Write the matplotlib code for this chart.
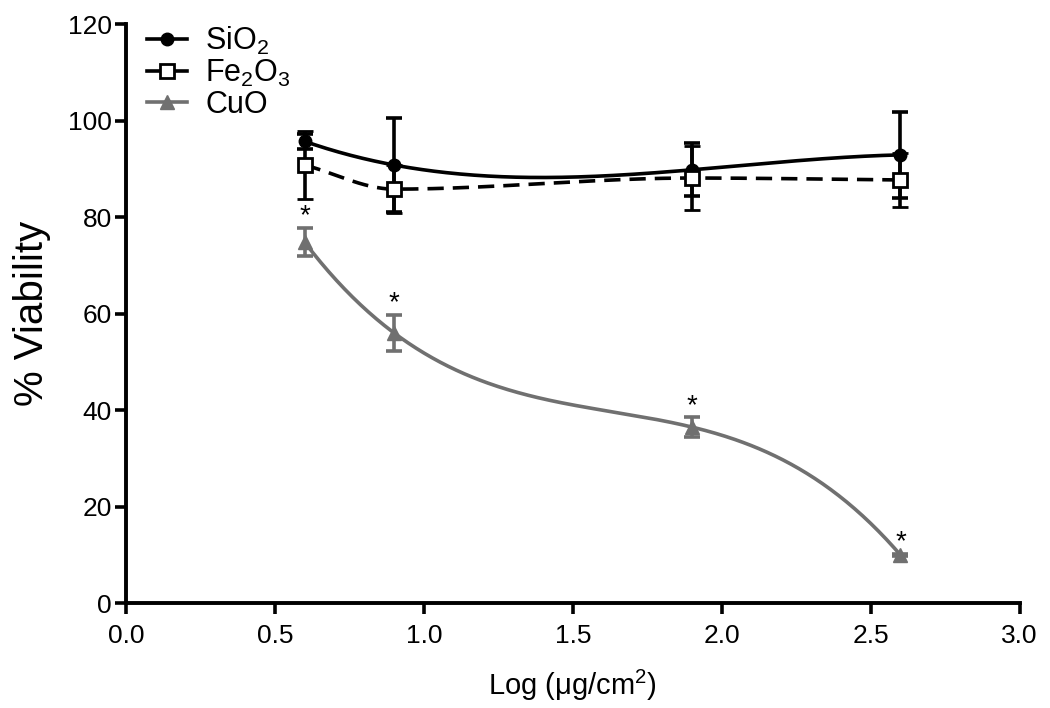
import numpy as np
import matplotlib
matplotlib.use("Agg")
import matplotlib.pyplot as plt

plt.rcParams["font.family"] = ["Liberation Sans", "DejaVu Sans"]
plt.rcParams["mathtext.fontset"] = "custom"
plt.rcParams["mathtext.rm"] = "Liberation Sans"
plt.rcParams["mathtext.it"] = "Liberation Sans:italic"

# Log dose (x) for every series
log_dose = [0.6, 0.9, 1.9, 2.6]

# % viability, mean and SD
sio2 = [95.7, 90.8, 89.8, 92.9]
sio2_err = [1.5, 9.7, 5.5, 8.9]
fe2o3 = [90.8, 85.8, 88.1, 87.7]
fe2o3_err = [7.0, 5.0, 6.7, 5.6]
cuo = [74.8, 56.0, 36.5, 10.0]
cuo_err = [2.9, 3.7, 2.0, 0.3]

grey = "#707070"


def pchip(x, y, xs):
    # monotone cubic hermite curve through the points
    x = np.asarray(x, float)
    y = np.asarray(y, float)
    h = np.diff(x)
    d = np.diff(y) / h
    m = np.zeros_like(y)
    for k in range(1, len(y) - 1):
        if d[k - 1] * d[k] > 0:
            w1 = 2 * h[k] + h[k - 1]
            w2 = h[k] + 2 * h[k - 1]
            m[k] = (w1 + w2) / (w1 / d[k - 1] + w2 / d[k])
    m[0] = d[0]
    m[-1] = d[-1]
    i = np.clip(np.searchsorted(x, xs) - 1, 0, len(h) - 1)
    t = (xs - x[i]) / h[i]
    h00 = 2 * t**3 - 3 * t**2 + 1
    h10 = t**3 - 2 * t**2 + t
    h01 = -2 * t**3 + 3 * t**2
    h11 = t**3 - t**2
    return h00 * y[i] + h10 * h[i] * m[i] + h01 * y[i + 1] + h11 * h[i] * m[i + 1]


xs = np.linspace(min(log_dose), max(log_dose), 300)
ax_curves = [
    (np.polyval(np.polyfit(log_dose, sio2, 3), xs), "-", "black"),
    (pchip(log_dose, fe2o3, xs), (0, (4.5, 2.5)), "black"),
    (np.polyval(np.polyfit(log_dose, cuo, 3), xs), "-", grey),
]

fig = plt.figure(figsize=(10.5, 7.08), dpi=100)
ax = fig.add_axes([0.12, 0.148, 0.851, 0.818])

for ys, ls, col in ax_curves:
    ax.plot(xs, ys, linestyle=ls, color=col, lw=2.6, zorder=2)

ax.errorbar(log_dose, sio2, yerr=sio2_err, fmt="o", color="black", ms=9,
            elinewidth=2.6, capsize=6, capthick=2.6, zorder=4)
ax.errorbar(log_dose, fe2o3, yerr=fe2o3_err, fmt="s", color="black", mfc="white",
            mew=2, ms=10, elinewidth=2.6, capsize=6, capthick=2.6, zorder=5)
ax.errorbar(log_dose, cuo, yerr=cuo_err, fmt="^", color=grey, ms=10,
            elinewidth=2.6, capsize=6, capthick=2.6, zorder=4)

# significance stars above the CuO points
for x, y, e in zip(log_dose, cuo, cuo_err):
    ax.text(x, y + e - 0.3, "*", ha="center", va="bottom", fontsize=20)

# legend with proxy handles
h1 = ax.plot([], [], "-o", color="black", lw=2.6, ms=9)[0]
h2 = ax.plot([], [], "-s", color="black", mfc="white", mew=2, lw=2.6, ms=10)[0]
h3 = ax.plot([], [], "-^", color=grey, lw=2.6, ms=10)[0]
ax.legend([h1, h2, h3], ["SiO$_2$", "Fe$_2$O$_3$", "CuO"], loc="upper left",
          bbox_to_anchor=(0.0, 1.035), frameon=False, fontsize=22,
          handlelength=1.3, handletextpad=0.6, labelspacing=0.02, borderaxespad=0.3)

ax.set_xlim(0, 3.0)
ax.set_ylim(0, 120)
ax.set_xticks([0.0, 0.5, 1.0, 1.5, 2.0, 2.5, 3.0])
ax.set_xticklabels(["0.0", "0.5", "1.0", "1.5", "2.0", "2.5", "3.0"])
ax.set_yticks([0, 20, 40, 60, 80, 100, 120])
ax.tick_params(labelsize=19, width=2.6, length=8, direction="out")
ax.tick_params(axis="x", pad=7)
ax.tick_params(axis="y", pad=2)
for s in ["top", "right"]:
    ax.spines[s].set_visible(False)
for s in ["left", "bottom"]:
    ax.spines[s].set_linewidth(2.8)

ax.set_xlabel("Log (\u03bcg/cm$^2$)", fontsize=21, labelpad=14)
ax.set_ylabel("% Viability", fontsize=29, labelpad=12)

fig.savefig("out.png", dpi=100)
